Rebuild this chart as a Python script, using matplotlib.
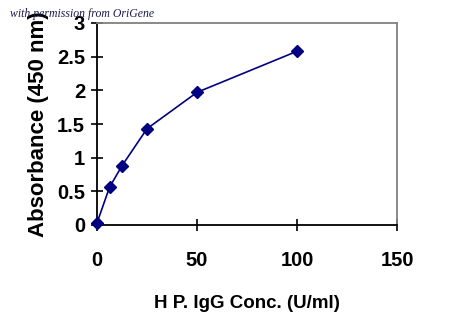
import matplotlib
matplotlib.use("Agg")
import matplotlib.pyplot as plt

# data
conc = [0, 6.25, 12.5, 25, 50, 100]
absorbance = [0.03, 0.56, 0.88, 1.43, 1.97, 2.58]
xticks = [0, 50, 100, 150]
yticks = [0, 0.5, 1, 1.5, 2, 2.5, 3]
ytick_labels = ["0", "0.5", "1", "1.5", "2", "2.5", "3"]

plt.rcParams['font.family'] = ['Liberation Sans', 'DejaVu Sans']
plt.rcParams['font.weight'] = 'bold'

fig = plt.figure(figsize=(4.5, 3.34), dpi=100)
ax = fig.add_axes([97 / 450, 1 - 225 / 334, 300 / 450, 202 / 334])

ax.plot(conc, absorbance, color='#000080', lw=1.2, marker='D', ms=6.5,
        mfc='#000080', mec='#000080', clip_on=False, zorder=5)

ax.set_xlim(0, 150)
ax.set_ylim(0, 3)
ax.set_xticks(xticks)
ax.set_yticks(yticks)
ax.set_yticklabels(ytick_labels)
ax.tick_params(direction='inout', length=9, width=1.2, labelsize=14.5, pad=4)
ax.tick_params(axis='x', pad=14)
for lab in ax.get_xticklabels() + ax.get_yticklabels():
    lab.set_fontweight('bold')

for s in ['left', 'bottom']:
    ax.spines[s].set_linewidth(1.3)
    ax.spines[s].set_color('black')
for s in ['top', 'right']:
    ax.spines[s].set_linewidth(1.3)
    ax.spines[s].set_color('#808080')

ax.set_xlabel('H P. IgG Conc. (U/ml)', fontsize=13.5, fontweight='bold', labelpad=18)
ax.set_ylabel('Absorbance (450 nm)', fontsize=16, fontweight='bold', labelpad=6)

fig.text(10 / 450, 1 - 17 / 334, 'with permission from OriGene', fontsize=8.5,
         family='Liberation Serif', style='italic', fontweight='normal',
         color='#1a1a50', zorder=10)

fig.savefig('out.png', dpi=100)
